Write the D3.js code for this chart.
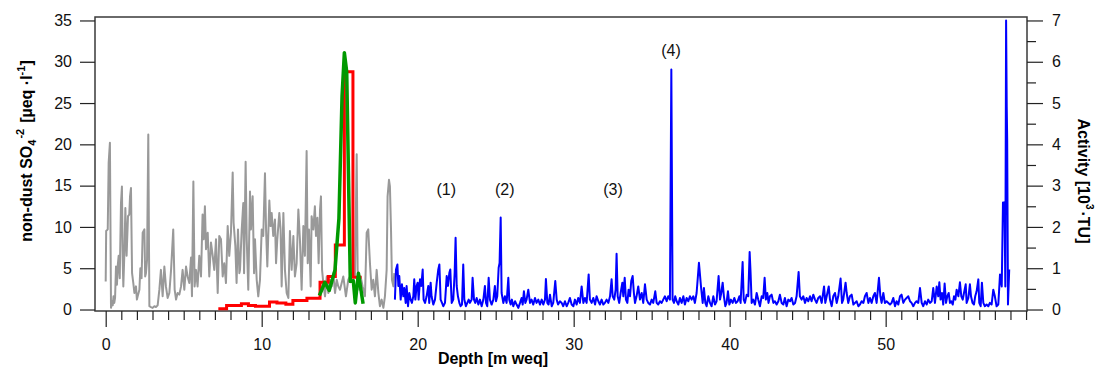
<!DOCTYPE html>
<html>
<head>
<meta charset="utf-8">
<script src="https://cdn.jsdelivr.net/npm/d3@7"></script>
<style>
  body { margin: 0; background: #fff; }
  svg text { font-family: "Liberation Sans", Arial, Helvetica, sans-serif; }
</style>
</head>
<body>
<div id="chart"></div>
<script>
// non-dust sulphate record [depth m weq, ueq/l]
const greyRecord = [
  [0.0,3.4],[0.03,9.5],[0.13,9.7],[0.19,17.8],[0.27,20.2],[0.34,0.2],[0.4,1.0],[0.45,0.5],[0.5,1.6],[0.55,0.8],
  [0.6,1.4],[0.66,5.2],[0.72,3.0],[0.78,5.5],[0.83,6.5],[0.9,3.8],[0.98,12.9],[1.04,14.9],[1.09,6.0],[1.13,2.8],
  [1.2,7.0],[1.26,12.3],[1.34,6.5],[1.43,11.3],[1.51,11.5],[1.56,13.7],[1.62,14.7],[1.69,4.4],[1.77,3.2],[1.84,2.0],
  [1.94,2.8],[2.0,1.2],[2.05,1.6],[2.16,2.4],[2.22,5.0],[2.3,3.8],[2.37,9.3],[2.48,9.7],[2.53,4.0],[2.58,4.4],
  [2.65,6.0],[2.73,21.2],[2.8,0.4],[2.9,0.3],[3.01,0.2],[3.12,0.4],[3.22,0.3],[3.33,0.5],[3.44,2.4],[3.54,4.8],
  [3.65,1.6],[3.76,5.2],[3.86,2.8],[3.97,1.4],[4.08,2.0],[4.19,4.8],[4.33,9.7],[4.42,2.4],[4.51,1.2],[4.61,2.0],
  [4.72,1.8],[4.83,2.8],[4.93,4.8],[5.04,2.4],[5.15,5.2],[5.25,4.0],[5.36,3.2],[5.47,6.3],[5.53,1.6],[5.62,15.5],
  [5.7,2.8],[5.79,4.8],[5.89,2.8],[6.0,6.5],[6.11,4.0],[6.21,11.5],[6.28,8.5],[6.36,12.5],[6.43,7.3],[6.54,9.3],
  [6.64,4.0],[6.75,8.1],[6.86,6.5],[6.96,4.8],[7.07,8.5],[7.18,2.0],[7.28,8.9],[7.39,8.5],[7.5,4.0],[7.6,5.6],
  [7.71,3.2],[7.82,10.1],[7.92,6.5],[8.03,9.3],[8.14,16.6],[8.2,10.5],[8.31,7.7],[8.39,3.2],[8.48,9.7],[8.57,4.4],
  [8.61,4.8],[8.72,9.7],[8.82,12.9],[8.87,4.4],[8.97,17.9],[9.04,8.5],[9.14,2.4],[9.25,14.3],[9.31,9.7],[9.42,13.7],
  [9.51,4.4],[9.57,8.5],[9.68,3.6],[9.78,1.6],[9.89,3.6],[10.0,9.7],[10.1,8.9],[10.21,16.5],[10.28,9.7],[10.36,5.2],
  [10.49,13.2],[10.57,10.1],[10.64,11.7],[10.74,8.9],[10.85,10.9],[10.92,5.6],[11.0,8.5],[11.13,11.7],[11.21,9.7],[11.28,2.8],
  [11.39,11.7],[11.49,4.8],[11.6,2.0],[11.71,1.4],[11.81,9.5],[11.92,4.8],[12.03,8.9],[12.13,4.0],[12.24,5.6],[12.35,12.1],
  [12.45,8.5],[12.56,2.4],[12.67,10.1],[12.77,6.5],[12.88,19.2],[12.95,5.6],[13.03,9.7],[13.14,2.8],[13.2,11.3],[13.31,9.7],
  [13.41,12.5],[13.48,8.9],[13.57,11.1],[13.65,5.6],[13.74,12.1],[13.8,13.7],[13.87,4.8],[13.95,3.2],[14.06,1.6],[14.17,4.0],
  [14.27,2.0],[14.38,3.6],[14.49,2.8],[14.59,4.4],[14.7,2.0],[14.81,3.6],[14.91,2.8],[15.02,2.4],[15.23,4.0],[15.4,1.6],
  [15.55,3.6],[15.77,4.4],[15.98,4.0],[16.09,18.8],[16.15,4.8],[16.26,2.4],[16.34,4.0],[16.47,2.8],[16.62,1.6],[16.73,9.3],
  [16.83,9.7],[16.94,5.6],[17.05,2.4],[17.15,3.6],[17.26,1.6],[17.37,4.8],[17.48,2.0],[17.58,0.4],[17.69,1.2],[17.8,0.2],
  [17.9,1.6],[18.01,4.8],[18.07,13.7],[18.16,15.7],[18.22,14.9],[18.29,9.7],[18.35,3.6],[18.44,2.8],[18.5,4.4]
];

// step record (red) and smoothed peak (green), ueq/l
const redRecord = [
  [7.22,0.1],[7.75,0.5],[8.7,0.7],[9.15,0.5],[9.6,0.4],[10.5,0.9],[10.98,0.8],[11.55,0.65],
  [12.0,1.1],[12.9,1.35],[13.74,3.3],[14.27,4.0],[14.72,7.8],[15.3,28.8],[15.85,3.9],[16.4,3.9]
];
const greenRecord = [
  [13.7,1.7],[14.05,3.3],[14.33,2.3],[14.7,4.8],[14.95,11],[15.15,25.8],[15.3,31.1],
  [15.45,28.8],[15.68,3.4],[15.87,3.5],[16.0,0.8],[16.2,4.4],[16.5,0.7]
];

// activity record [depth m weq, 10^3 TU]
const blueRecord = [
  [18.54,0.24],[18.61,0.97],[18.7,1.09],[18.76,0.57],[18.82,0.81],[18.91,0.24],[18.99,0.61],[19.08,0.32],[19.14,0.52],[19.23,0.16],
  [19.29,0.57],[19.38,0.08],[19.46,0.4],[19.55,0.24],[19.63,0.16],[19.72,0.32],[19.78,0.73],[19.85,0.24],[19.93,0.57],[20.0,0.65],
  [20.06,0.24],[20.15,0.73],[20.23,0.57],[20.32,0.97],[20.38,0.24],[20.47,0.16],[20.57,0.32],[20.68,0.57],[20.74,0.16],[20.83,0.65],
  [20.89,0.32],[21.0,0.12],[21.11,0.24],[21.22,0.65],[21.32,0.97],[21.39,1.09],[21.47,0.24],[21.56,0.16],[21.64,0.08],[21.75,0.16],
  [21.86,0.81],[21.94,0.57],[22.03,0.89],[22.09,0.97],[22.18,0.16],[22.28,0.24],[22.37,0.89],[22.43,1.74],[22.5,0.57],[22.58,0.32],
  [22.67,0.16],[22.75,0.08],[22.84,0.12],[22.92,1.09],[22.99,0.24],[23.09,0.08],[23.18,0.16],[23.27,0.24],[23.35,0.16],[23.46,0.24],
  [23.52,0.77],[23.61,0.24],[23.69,0.16],[23.78,0.28],[23.89,0.12],[23.99,0.24],[24.1,0.08],[24.21,0.24],[24.31,0.57],[24.38,0.16],
  [24.46,0.08],[24.55,0.77],[24.63,0.24],[24.74,0.12],[24.85,0.24],[24.95,0.57],[25.02,0.2],[25.1,0.32],[25.19,1.01],[25.25,1.13],
  [25.32,2.23],[25.38,0.4],[25.49,0.16],[25.59,0.32],[25.7,0.16],[25.81,0.77],[25.87,0.24],[25.96,0.12],[26.04,0.24],[26.13,0.08],
  [26.24,0.2],[26.34,0.12],[26.45,0.04],[26.56,0.16],[26.66,0.28],[26.73,0.12],[26.81,0.44],[26.9,0.16],[26.98,0.24],[27.09,0.48],
  [27.2,0.16],[27.3,0.24],[27.41,0.12],[27.52,0.28],[27.62,0.16],[27.73,0.24],[27.84,0.12],[27.95,0.24],[28.05,0.12],[28.16,0.24],
  [28.22,0.74],[28.31,0.16],[28.39,0.12],[28.48,0.36],[28.59,0.08],[28.69,0.16],[28.82,0.69],[28.91,0.24],[29.0,0.12],[29.12,0.2],
  [29.23,0.16],[29.33,0.08],[29.44,0.2],[29.55,0.08],[29.65,0.16],[29.76,0.28],[29.87,0.12],[29.98,0.08],[30.08,0.24],[30.19,0.12],
  [30.29,0.28],[30.4,0.16],[30.51,0.56],[30.62,0.16],[30.72,0.28],[30.83,0.16],[30.96,0.85],[31.04,0.24],[31.15,0.16],[31.26,0.28],
  [31.37,0.12],[31.47,0.32],[31.58,0.2],[31.68,0.12],[31.79,0.24],[31.9,0.12],[32.0,0.16],[32.11,0.24],[32.22,0.16],[32.33,0.32],
  [32.43,0.73],[32.5,0.32],[32.6,0.24],[32.69,0.48],[32.75,1.35],[32.82,0.32],[32.92,0.16],[33.01,0.4],[33.12,0.65],[33.18,0.32],
  [33.27,0.77],[33.35,0.24],[33.44,0.16],[33.52,0.48],[33.61,0.32],[33.69,0.69],[33.78,0.81],[33.86,0.4],[33.93,0.16],[34.03,0.32],
  [34.14,0.56],[34.25,0.24],[34.36,0.4],[34.46,0.16],[34.57,0.61],[34.68,0.24],[34.78,0.16],[34.89,0.12],[35.0,0.24],[35.1,0.16],
  [35.23,0.44],[35.32,0.16],[35.42,0.12],[35.53,0.2],[35.64,0.16],[35.74,0.24],[35.85,0.32],[35.96,0.2],[36.06,0.32],[36.17,0.24],
  [36.26,5.81],[36.34,0.24],[36.43,0.16],[36.51,0.32],[36.6,0.2],[36.71,0.12],[36.81,0.28],[36.92,0.16],[37.03,0.32],[37.13,0.12],
  [37.24,0.28],[37.35,0.2],[37.45,0.32],[37.56,0.24],[37.67,0.32],[37.77,0.16],[37.88,0.4],[38.03,1.13],[38.16,0.56],[38.27,0.16],
  [38.35,0.52],[38.44,0.16],[38.52,0.08],[38.63,0.32],[38.74,0.16],[38.84,0.08],[38.95,0.32],[39.06,0.12],[39.16,0.2],[39.29,0.81],
  [39.38,0.24],[39.46,0.4],[39.55,0.65],[39.63,0.32],[39.72,0.08],[39.8,0.16],[39.89,0.44],[39.98,0.12],[40.08,0.24],[40.19,0.16],
  [40.3,0.28],[40.4,0.16],[40.51,0.2],[40.62,0.32],[40.7,0.16],[40.83,1.15],[40.9,0.24],[40.98,0.16],[41.09,0.36],[41.19,0.32],
  [41.28,1.39],[41.34,0.89],[41.41,0.16],[41.51,0.24],[41.62,0.12],[41.73,0.4],[41.83,0.24],[41.94,0.08],[42.05,0.32],[42.15,0.28],
  [42.24,0.77],[42.32,0.24],[42.41,0.4],[42.49,0.16],[42.58,0.32],[42.69,0.36],[42.8,0.16],[42.9,0.2],[43.01,0.12],[43.12,0.2],
  [43.22,0.36],[43.33,0.16],[43.44,0.12],[43.54,0.28],[43.65,0.08],[43.76,0.24],[43.87,0.2],[43.97,0.28],[44.08,0.12],[44.19,0.16],
  [44.29,0.32],[44.42,0.91],[44.5,0.32],[44.61,0.24],[44.72,0.32],[44.83,0.16],[44.93,0.28],[45.04,0.2],[45.15,0.32],[45.25,0.2],
  [45.36,0.36],[45.47,0.24],[45.57,0.16],[45.68,0.28],[45.79,0.32],[45.9,0.16],[46.05,0.56],[46.13,0.16],[46.22,0.32],[46.35,0.56],
  [46.43,0.24],[46.54,0.08],[46.64,0.32],[46.75,0.4],[46.86,0.16],[46.96,0.32],[47.11,0.75],[47.2,0.16],[47.28,0.24],[47.43,0.65],
  [47.5,0.4],[47.6,0.16],[47.71,0.32],[47.82,0.36],[47.93,0.12],[48.03,0.16],[48.14,0.2],[48.25,0.08],[48.35,0.12],[48.46,0.2],
  [48.57,0.16],[48.67,0.32],[48.78,0.4],[48.89,0.16],[48.99,0.28],[49.1,0.16],[49.21,0.32],[49.31,0.4],[49.42,0.16],[49.57,0.77],
  [49.66,0.32],[49.74,0.16],[49.85,0.4],[49.95,0.16],[50.06,0.2],[50.17,0.16],[50.28,0.12],[50.38,0.16],[50.49,0.28],[50.6,0.08],
  [50.7,0.2],[50.81,0.12],[50.92,0.32],[51.02,0.36],[51.13,0.16],[51.24,0.24],[51.34,0.28],[51.45,0.32],[51.56,0.2],[51.66,0.16],
  [51.77,0.08],[51.88,0.16],[51.98,0.2],[52.09,0.16],[52.2,0.52],[52.31,0.16],[52.41,0.08],[52.52,0.2],[52.63,0.12],[52.73,0.24],
  [52.84,0.16],[52.95,0.2],[53.05,0.52],[53.16,0.16],[53.27,0.56],[53.37,0.32],[53.44,0.66],[53.52,0.24],[53.61,0.4],[53.69,0.12],
  [53.78,0.63],[53.87,0.16],[53.95,0.32],[54.04,0.4],[54.12,0.16],[54.21,0.2],[54.3,0.12],[54.38,0.32],[54.47,0.24],[54.55,0.48],
  [54.66,0.32],[54.76,0.66],[54.85,0.32],[54.94,0.24],[55.02,0.4],[55.13,0.61],[55.19,0.16],[55.3,0.28],[55.4,0.61],[55.47,0.32],
  [55.57,0.16],[55.66,0.12],[55.74,0.32],[55.83,0.44],[55.94,0.73],[56.0,0.16],[56.09,0.08],[56.17,0.65],[56.26,0.16],[56.36,0.08],
  [56.47,0.12],[56.58,0.08],[56.68,0.16],[56.79,0.12],[56.9,0.48],[57.0,0.32],[57.11,0.08],[57.22,0.12],[57.33,0.85],[57.44,0.56],
  [57.52,2.59],[57.62,2.59],[57.67,0.56],[57.72,7.0],[57.76,4.92],[57.79,4.1],[57.84,0.12],[57.92,0.97]
];

const depthTicks = [0, 10, 20, 30, 40, 50];
const so4Ticks = [0, 5, 10, 15, 20, 25, 30, 35];
const activityTicks = [0, 1, 2, 3, 4, 5, 6, 7];
const peakLabels = ["(1)", "(2)", "(3)", "(4)"];
const peakDepths = [21.83, 25.58, 32.52, 36.24];
const peakLevels = [2.78, 2.78, 2.78, 6.13];

const W = 1096, H = 367;
const margin = {top: 17, right: 69, bottom: 56, left: 95};
const width = W - margin.left - margin.right;
const height = H - margin.top - margin.bottom;

const x = d3.scaleLinear().domain([-0.686, 59.06]).range([0, width]);
const yL = d3.scaleLinear().domain([-0.18, 35.42]).range([height, 0]);
const yR = d3.scaleLinear().domain([-0.036, 7.084]).range([height, 0]);

const svg = d3.select("#chart").append("svg")
    .attr("width", W)
    .attr("height", H);

const g = svg.append("g")
    .attr("transform", `translate(${margin.left},${margin.top})`);

// frame
g.append("rect")
    .attr("width", width)
    .attr("height", height)
    .attr("fill", "none")
    .attr("stroke", "#3a3a3a")
    .attr("stroke-width", 1.5);

// axes
function styleAxis(sel) {
    sel.select(".domain").remove();
    sel.selectAll(".tick line").attr("stroke", "#222").attr("stroke-width", 1.2);
    sel.selectAll(".tick text").attr("font-size", 16).attr("fill", "#111");
}

const minorDepth = d3.range(0, 60, 1).filter(d => d % 10 !== 0);
g.append("g")
    .attr("transform", `translate(0,${height})`)
    .call(d3.axisBottom(x).tickValues(minorDepth).tickSize(9).tickFormat(""))
    .call(styleAxis);
g.append("g")
    .attr("transform", `translate(0,${height})`)
    .call(d3.axisBottom(x).tickValues(depthTicks).tickSize(16).tickPadding(12).tickFormat(d3.format("d")))
    .call(styleAxis);

g.append("g")
    .call(d3.axisLeft(yL).tickValues(so4Ticks).tickSize(15).tickPadding(8))
    .call(styleAxis);

g.append("g")
    .attr("transform", `translate(${width},0)`)
    .call(d3.axisRight(yR).tickValues(d3.range(0.5, 7, 1)).tickSize(9).tickFormat(""))
    .call(styleAxis);
g.append("g")
    .attr("transform", `translate(${width},0)`)
    .call(d3.axisRight(yR).tickValues(activityTicks).tickSize(16).tickPadding(9))
    .call(styleAxis);

// series
const lineL = d3.line().x(d => x(d[0])).y(d => yL(d[1]));
const lineR = d3.line().x(d => x(d[0])).y(d => yR(d[1]));

g.append("path").datum(greyRecord)
    .attr("d", lineL)
    .attr("fill", "none").attr("stroke", "#999999").attr("stroke-width", 2)
    .attr("stroke-linejoin", "round");

g.append("path").datum(blueRecord)
    .attr("d", lineR)
    .attr("fill", "none").attr("stroke", "#0000ff").attr("stroke-width", 2)
    .attr("stroke-linejoin", "round");

g.append("path").datum(redRecord)
    .attr("d", lineL.curve(d3.curveStepAfter))
    .attr("fill", "none").attr("stroke", "#ff0000").attr("stroke-width", 3);

g.append("path").datum(greenRecord)
    .attr("d", d3.line().x(d => x(d[0])).y(d => yL(d[1])))
    .attr("fill", "none").attr("stroke", "#009900").attr("stroke-width", 3.5)
    .attr("stroke-linejoin", "round");

// peak labels
g.selectAll(".peak")
    .data(peakLabels)
    .enter()
    .append("text")
    .attr("class", "peak")
    .attr("x", (d, i) => x(peakDepths[i]))
    .attr("y", (d, i) => yR(peakLevels[i]))
    .attr("text-anchor", "middle")
    .attr("font-size", 16)
    .attr("fill", "#111")
    .text(d => d);

// axis titles
svg.append("text")
    .attr("x", 493)
    .attr("y", 364)
    .attr("text-anchor", "middle")
    .attr("font-size", 16)
    .attr("font-weight", "bold")
    .text("Depth [m weq]");

const yt = svg.append("text")
    .attr("transform", "translate(32,151) rotate(-90)")
    .attr("text-anchor", "middle")
    .attr("font-size", 16)
    .attr("font-weight", "bold");
yt.append("tspan").text("non-dust SO");
yt.append("tspan").attr("font-size", 11).attr("dy", 4).text("4");
yt.append("tspan").attr("font-size", 11).attr("dy", -12).attr("dx", 1).text("-2");
yt.append("tspan").attr("dy", 8).attr("dx", 6).text("[µeq ·l");
yt.append("tspan").attr("font-size", 11).attr("dy", -7).text("-1");
yt.append("tspan").attr("dy", 7).text("]");

const rt = svg.append("text")
    .attr("transform", "translate(1078,181) rotate(90)")
    .attr("text-anchor", "middle")
    .attr("font-size", 16)
    .attr("font-weight", "bold");
rt.append("tspan").text("Activity [10");
rt.append("tspan").attr("font-size", 10).attr("dy", -8).text("3");
rt.append("tspan").attr("dy", 8).attr("dx", 2).text("·TU]");
</script>
</body>
</html>
